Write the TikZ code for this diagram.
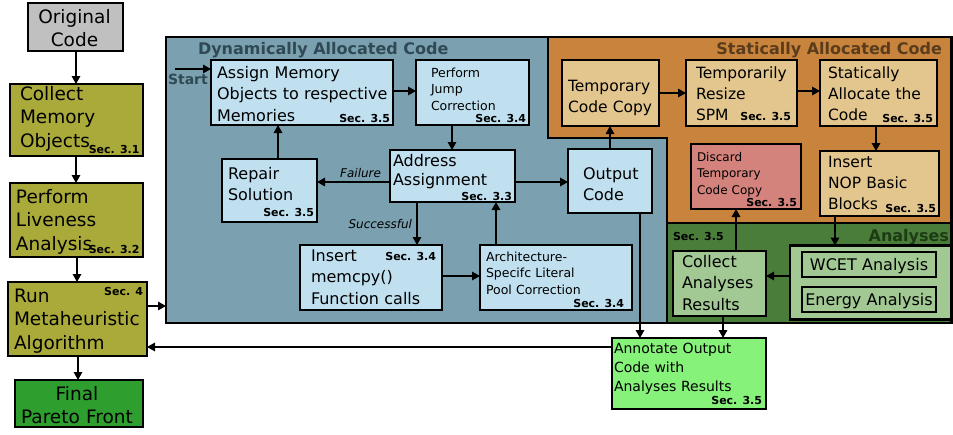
\documentclass[tikz,border=0pt]{standalone}
\usepackage{fontspec}
\setmainfont{DejaVu Sans}
\usetikzlibrary{arrows.meta}
\definecolor{cgray}{HTML}{C0C0C0}
\definecolor{colive}{HTML}{AAAA3A}
\definecolor{cfinal}{HTML}{2E9E2E}
\definecolor{cdyn}{HTML}{7BA0B0}
\definecolor{cdyntxt}{HTML}{2F4A55}
\definecolor{clblue}{HTML}{C0E0F0}
\definecolor{corange}{HTML}{C8843C}
\definecolor{cortxt}{HTML}{5A3C1C}
\definecolor{ctan}{HTML}{E2C68E}
\definecolor{cred}{HTML}{D4827C}
\definecolor{cdgreen}{HTML}{4A7C3A}
\definecolor{cgtxt}{HTML}{1E3C14}
\definecolor{clgreen}{HTML}{A2C894}
\definecolor{cannot}{HTML}{86F27A}
\newcommand\fsz[2]{\fontsize{#1}{#2}\selectfont}
\newcommand\mkbox[6]{\node[boxst,#2,minimum width={#5-#3},minimum height={#6-#4}] (#1) at ({(#3+#5)/2},{(#4+#6)/2}) {};}
\tikzset{
  boxst/.style={draw=black,line width=2.8pt,inner sep=0pt,outer sep=0pt},
  contst/.style={draw=black,line width=2.2pt,inner sep=0pt,outer sep=0pt},
  arr/.style={line width=1.6pt,-{Triangle[length=8pt,width=8.5pt]}},
  txt/.style={inner sep=0pt,outer sep=0pt,anchor=base west,align=left,text width=230pt},
  ctxt/.style={inner sep=0pt,outer sep=0pt,anchor=base,align=center,text width=160pt},
  sec/.style={inner sep=0pt,outer sep=0pt,anchor=base east,font=\bfseries\fsz{11}{13}},
  big/.style={font=\fsz{18.5}{23.5}},
  mid/.style={font=\fsz{16}{21.5}},
  orn/.style={font=\fsz{15.5}{21}},
  sml/.style={font=\fsz{12.5}{16.5}},
  lbl/.style={inner sep=0pt,outer sep=0pt,font=\itshape\fsz{12}{14}},
  ttl/.style={inner sep=0pt,outer sep=0pt,font=\bfseries\fsz{16}{18}},
}
\begin{document}
\begin{tikzpicture}[x=1pt,y=-1pt]
\useasboundingbox (0,0) rectangle (953,434);
% containers
\node[contst,fill=cdyn,minimum width=501,minimum height=286] (dyn) at (416.5,180) {};
\filldraw[fill=corange,draw=black,line width=2.2pt] (548,37) -- (951.5,37) -- (951.5,223) -- (667,223) -- (667,138) -- (548,138) -- cycle;
\node[contst,fill=cdgreen,minimum width=284.5,minimum height=100] (ana) at (809.25,273) {};
% titles
\node[ttl,text=cdyntxt,anchor=base west] (tdyn) at (198,54) {Dynamically Allocated Code};
\node[ttl,text=cortxt,anchor=base east] (tst) at (942,54) {Statically Allocated Code};
\node[ttl,text=cgtxt,anchor=base east] (tana) at (949,241) {Analyses};
\node[sec,anchor=base west] (sana) at (673,240) {Sec. 3.5};
\node[inner sep=0pt,outer sep=0pt,anchor=base west,text=cdyntxt,font=\bfseries\fsz{14}{16}] (tstart) at (168,84) {Start};
% left column
\mkbox{orig}{fill=cgray}{28}{3}{123}{51}
\node[ctxt,big] (torig) at (74.5,23) {Original\\Code};
\mkbox{collect}{fill=colive}{10}{84}{143}{156}
\node[txt,big] (tcollect) at (20,100) {Collect\\Memory\\Objects};
\node[sec] (scollect) at (139.5,153) {Sec. 3.1};
\mkbox{live}{fill=colive}{10}{183}{143}{257}
\node[txt,big] (tlive) at (16,203) {Perform\\Liveness\\Analysis};
\node[sec] (slive) at (139.5,253) {Sec. 3.2};
\mkbox{run}{fill=colive}{8}{282}{147}{356}
\node[txt,big] (trun) at (14,302) {Run\\Metaheuristic\\Algorithm};
\node[sec] (srun) at (143,295) {Sec. 4};
\mkbox{final}{fill=cfinal}{15}{380}{143}{427}
\node[ctxt,big] (tfinal) at (77,400) {Final\\Pareto Front};
% dynamic nodes
\mkbox{assign}{fill=clblue}{211}{60}{393}{125}
\node[txt,mid] (tassign) at (217,78) {Assign Memory\\Objects to respective\\Memories};
\node[sec] (sassign) at (390,122) {Sec. 3.5};
\mkbox{jump}{fill=clblue}{416}{60}{529}{125}
\node[txt,sml] (tjump) at (431,77) {Perform\\Jump\\Correction};
\node[sec] (sjump) at (526,122) {Sec. 3.4};
\mkbox{addr}{fill=clblue}{390}{150}{515}{202}
\node[txt,mid,font=\fsz{16}{19.5}] (taddr) at (393,166) {Address\\Assignment};
\node[sec] (saddr) at (512,200) {Sec. 3.3};
\mkbox{repair}{fill=clblue}{222}{159}{317}{222}
\node[txt,mid] (trepair) at (228,179) {Repair\\Solution};
\node[sec] (srepair) at (314,216) {Sec. 3.5};
\mkbox{output}{fill=clblue}{568}{149}{652}{213}
\node[txt,mid] (toutput) at (583,179) {Output\\Code};
\mkbox{memcpy}{fill=clblue}{300}{245}{442}{310}
\node[txt,mid] (tmemcpy) at (311,261) {Insert\\memcpy()\\Function calls};
\node[sec] (smemcpy) at (436,260) {Sec. 3.4};
\mkbox{arch}{fill=clblue}{480}{245}{632}{310}
\node[txt,sml] (tarch) at (486,261) {Architecture-\\Specifc Literal\\Pool Correction};
\node[sec] (sarch) at (624,307) {Sec. 3.4};
% static nodes
\mkbox{tcc}{fill=ctan}{562}{60}{659}{126}
\node[txt,orn] (ttcc) at (568,91) {Temporary\\Code Copy};
\mkbox{trs}{fill=ctan}{686}{60}{797}{126}
\node[txt,orn] (ttrs) at (696,78) {Temporarily\\Resize\\SPM};
\node[sec] (strs) at (791,120) {Sec. 3.5};
\mkbox{sac}{fill=ctan}{820}{60}{937}{126}
\node[txt,orn] (tsac) at (828,78) {Statically\\Allocate the\\Code};
\node[sec] (ssac) at (933,122) {Sec. 3.5};
\mkbox{discard}{fill=cred}{691}{144}{801}{209}
\node[txt,font=\fsz{12}{16.5}] (tdiscard) at (697,161) {Discard\\Temporary\\Code Copy};
\node[sec] (sdiscard) at (797,206) {Sec. 3.5};
\mkbox{nop}{fill=ctan}{820}{151}{939}{216}
\node[txt,orn] (tnop) at (828,167) {Insert\\NOP Basic\\Blocks};
\node[sec] (snop) at (936,212) {Sec. 3.5};
% analyses
\mkbox{colres}{fill=clgreen}{673}{251}{766}{316}
\node[txt,mid] (tcolres) at (682,267) {Collect\\Analyses\\Results};
\node[contst,fill=clgreen,minimum width=161,minimum height=74] (acont) at (870.5,282.5) {};
\mkbox{wcet}{fill=clgreen}{802}{252}{936}{277}
\node[ctxt,mid] (twcet) at (869,270) {WCET Analysis};
\mkbox{energy}{fill=clgreen}{802}{287}{936}{312}
\node[ctxt,mid] (tenergy) at (869,305) {Energy Analysis};
\mkbox{annot}{fill=cannot}{612}{338}{766}{409}
\node[txt,font=\fsz{14}{19}] (tannot) at (614,353) {Annotate Output\\Code with\\Analyses Results};
\node[sec] (sannot) at (762,404) {Sec. 3.5};
% connectors
\coordinate (start) at (175,69);
\draw[arr] (orig.south -| 76,0) -- (collect.north -| 76,0);
\draw[arr] (collect.south -| 76,0) -- (live.north -| 76,0);
\draw[arr] (live.south -| 77,0) -- (run.north -| 77,0);
\draw[arr] (run.south -| 78,0) -- (final.north -| 78,0);
\draw[arr] (run.east |- 0,306) -- (dyn.west |- 0,306);
\draw[arr] (start) -- (assign.west |- start);
\draw[arr] (assign.east |- 0,91) -- (jump.west |- 0,91);
\draw[arr] (jump.south -| 452,0) -- (addr.north -| 452,0);
\draw[arr] (addr.west |- 0,182) -- (repair.east |- 0,182);
\node[lbl,anchor=base east] (lfail) at (381,177) {Failure};
\draw[arr] (repair.north -| 278,0) -- (assign.south -| 278,0);
\draw[arr] (addr.east |- 0,182) -- (output.west |- 0,182);
\draw[arr] (addr.south -| 417,0) -- (memcpy.north -| 417,0);
\node[lbl,anchor=base east] (lsucc) at (412,228) {Successful};
\draw[arr] (memcpy.east |- 0,276) -- (arch.west |- 0,276);
\draw[arr] (arch.north -| 496,0) -- (addr.south -| 496,0);
\draw[arr] (output.north -| 610,0) -- (tcc.south -| 610,0);
\draw[arr] (output.south -| 640,0) -- (annot.north -| 640,0);
\draw[arr] (tcc.east |- 0,93) -- (trs.west |- 0,93);
\draw[arr] (trs.east |- 0,91) -- (sac.west |- 0,91);
\draw[arr] (sac.south -| 876,0) -- (nop.north -| 876,0);
\draw[arr] (colres.north -| 736,0) -- (discard.south -| 736,0);
\draw[arr] (nop.south -| 835,0) -- (acont.north -| 835,0);
\draw[arr] (acont.west |- 0,276) -- (colres.east |- 0,276);
\draw[arr] (colres.south -| 723,0) -- (annot.north -| 723,0);
\draw[arr] (annot.west |- 0,347) -- (run.east |- 0,347);
\end{tikzpicture}
\end{document}
